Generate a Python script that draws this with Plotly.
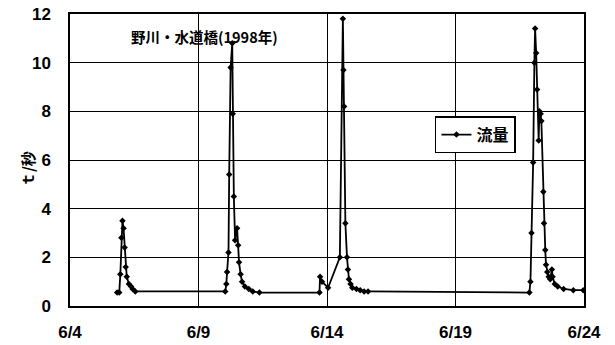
import plotly.graph_objects as go

# Hourly discharge readings (t/秒) at 水道橋 on the 野川, June 1998
times = [
    "1998-06-05 20:00", "1998-06-05 22:00", "1998-06-05 23:00", "1998-06-06 00:00",
    "1998-06-06 01:00", "1998-06-06 02:00", "1998-06-06 03:00", "1998-06-06 04:00",
    "1998-06-06 05:00", "1998-06-06 07:00", "1998-06-06 09:00", "1998-06-06 10:30",
    "1998-06-06 13:00",
    "1998-06-10 01:00", "1998-06-10 02:00", "1998-06-10 02:40", "1998-06-10 04:00",
    "1998-06-10 04:40", "1998-06-10 06:00", "1998-06-10 07:30", "1998-06-10 08:00",
    "1998-06-10 09:00", "1998-06-10 10:10", "1998-06-10 12:00", "1998-06-10 13:00",
    "1998-06-10 13:50", "1998-06-10 15:20", "1998-06-10 16:40", "1998-06-10 19:20",
    "1998-06-10 23:00", "1998-06-11 02:40", "1998-06-11 08:50",
    "1998-06-13 17:00", "1998-06-13 17:30", "1998-06-13 19:20", "1998-06-14 01:00",
    "1998-06-14 12:00", "1998-06-14 14:50", "1998-06-14 15:20", "1998-06-14 16:00",
    "1998-06-14 17:10", "1998-06-14 18:40", "1998-06-14 19:30", "1998-06-14 20:30",
    "1998-06-14 22:00", "1998-06-14 23:40", "1998-06-15 03:30", "1998-06-15 07:00",
    "1998-06-15 10:40", "1998-06-15 14:20",
    "1998-06-21 21:00", "1998-06-21 22:00", "1998-06-21 23:00", "1998-06-22 00:30",
    "1998-06-22 01:40", "1998-06-22 02:20", "1998-06-22 03:20", "1998-06-22 04:10",
    "1998-06-22 05:40", "1998-06-22 06:20", "1998-06-22 07:30", "1998-06-22 08:10",
    "1998-06-22 10:00", "1998-06-22 10:40", "1998-06-22 11:50", "1998-06-22 12:30",
    "1998-06-22 13:40", "1998-06-22 15:00", "1998-06-22 16:30", "1998-06-22 18:00",
    "1998-06-22 18:40", "1998-06-22 20:40", "1998-06-22 23:30", "1998-06-23 05:00",
    "1998-06-23 14:00", "1998-06-23 23:20",
]
flow = [
    0.55, 0.55, 1.3, 2.8,
    3.5, 3.2, 2.4, 1.6,
    1.2, 0.9, 0.8, 0.7,
    0.6,
    0.6, 0.9, 1.4, 2.2,
    5.4, 9.8, 10.8, 7.9,
    4.5, 2.7, 3.2, 2.5,
    1.8, 1.3, 1.0, 0.8,
    0.7, 0.6, 0.55,
    0.55, 1.2, 1.0, 0.75,
    2.0, 11.8, 9.7, 8.2,
    3.4, 2.0, 1.5, 1.1,
    0.9, 0.75, 0.7, 0.65,
    0.6, 0.6,
    0.55, 1.0, 3.0, 5.9,
    10.0, 11.4, 10.4, 8.9,
    6.8, 8.0, 7.9, 7.6,
    4.7, 3.4, 2.3, 1.7,
    1.4, 1.2, 1.1, 1.5,
    1.2, 0.9, 0.8, 0.7,
    0.65, 0.65,
]

y_ticks = [0, 2, 4, 6, 8, 10, 12]
x_ticks = ["1998-06-04", "1998-06-09", "1998-06-14", "1998-06-19", "1998-06-24"]
x_tick_text = ["6/4", "6/9", "6/14", "6/19", "6/24"]

tick_font = dict(family="Liberation Sans, Arial, sans-serif", size=17, color="black")
cjk = "Noto Sans CJK JP, sans-serif"

fig = go.Figure()
fig.add_trace(go.Scatter(
    x=times, y=flow, mode="lines+markers", name="<b>流量</b>",
    line=dict(color="black", width=1.8),
    marker=dict(symbol="diamond", size=5, color="black"),
))

fig.update_layout(
    width=615, height=345,
    margin=dict(l=70, r=31, t=14, b=39),
    paper_bgcolor="white", plot_bgcolor="white",
    showlegend=True,
    legend=dict(
        x=0.71, y=0.65, xanchor="left", yanchor="top",
        bordercolor="black", borderwidth=1.5, bgcolor="white",
        font=dict(family=cjk, size=16, color="black"),
        itemwidth=30,
    ),
    annotations=[
        dict(
            text="<b>野川・水道橋(1998年)</b>", xref="paper", yref="paper",
            x=0.114, y=0.965, xanchor="left", yanchor="top", showarrow=False,
            font=dict(family=cjk, size=14.5, color="black"),
        ),
        dict(
            text="<b>ｔ/秒</b>", xref="paper", yref="paper",
            x=-0.083, y=0.47, xanchor="center", yanchor="middle", showarrow=False,
            textangle=-90, font=dict(family=cjk, size=15, color="black"),
        ),
    ],
)

fig.update_xaxes(
    type="date", range=["1998-06-04", "1998-06-24"],
    tickvals=x_ticks, ticktext=["<b>%s</b>" % t for t in x_tick_text],
    tickfont=tick_font, ticks="", ticklabelstandoff=10, automargin=False,
    showgrid=True, gridcolor="black", gridwidth=1,
    showline=True, linecolor="black", linewidth=1.5, mirror=True,
    zeroline=False,
)
fig.update_yaxes(
    range=[0, 12], tickvals=y_ticks, ticktext=["<b>%d</b>" % v for v in y_ticks],
    tickfont=tick_font, ticks="", ticklabelstandoff=14, automargin=False,
    showgrid=True, gridcolor="black", gridwidth=1,
    showline=True, linecolor="black", linewidth=1.5, mirror=True,
    zeroline=False,
)

fig.write_html("out.html")
